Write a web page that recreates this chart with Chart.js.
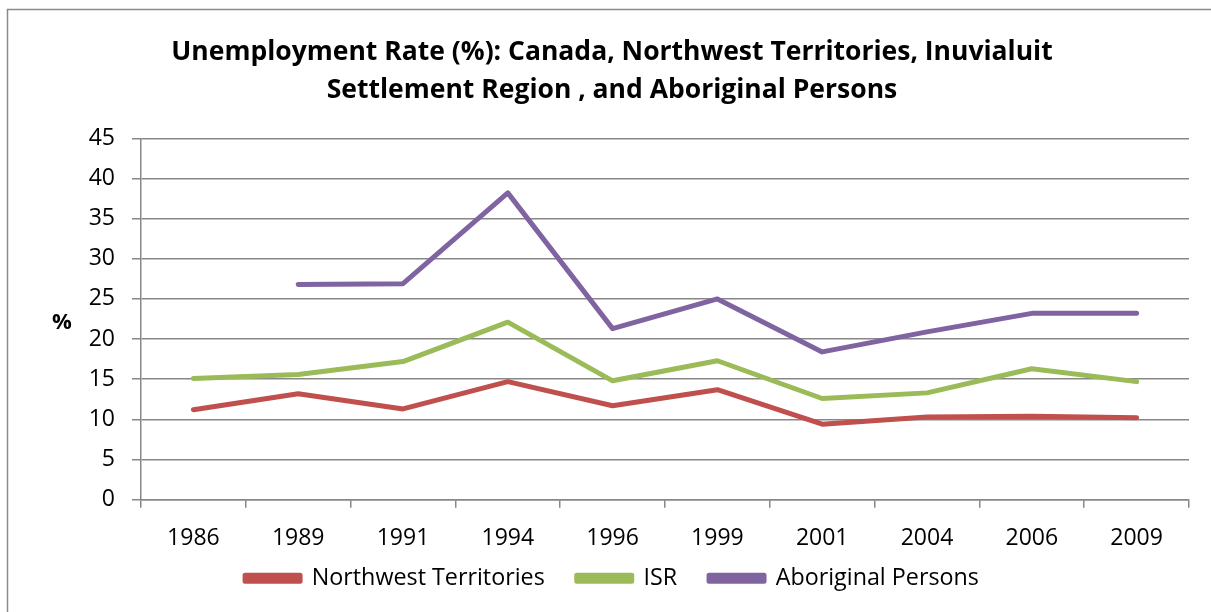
<!DOCTYPE html>
<html>
<head>
<meta charset="utf-8">
<script src="https://cdn.jsdelivr.net/npm/chart.js@4"></script>
<style>
  html, body { margin: 0; padding: 0; background: #ffffff; }
  #wrap { width: 1211px; height: 612px; position: relative; }
</style>
</head>
<body>
<div id="wrap"><canvas id="c" width="1211" height="612"></canvas></div>
<script>
const categories = ['1986', '1989', '1991', '1994', '1996', '1999', '2001', '2004', '2006', '2009'];
const nwtValues = [11.2, 13.2, 11.3, 14.7, 11.7, 13.7, 9.4, 10.3, 10.4, 10.2];
const isrValues = [15.1, 15.6, 17.2, 22.1, 14.8, 17.3, 12.6, 13.3, 16.3, 14.7];
const aboriginalValues = [null, 26.8, 26.9, 38.2, 21.3, 25.0, 18.4, 20.9, 23.2, 23.2];
const seriesNames = ['Northwest Territories', 'ISR', 'Aboriginal Persons'];
const titleLines = ['Unemployment Rate (%): Canada, Northwest Territories, Inuvialuit', 'Settlement Region , and Aboriginal Persons'];
const yAxisLabel = '%';

const FONT = '"Open Sans", Lato, sans-serif';
const GRID = '#878787';
const LEGEND_PAD = 32;
const LEGEND_SHIFT = 17;

const framePlugin = {
  id: 'frame',
  afterLayout(chart) {
    const l = chart.legend;
    if (l) { l.top -= LEGEND_SHIFT; l.bottom -= LEGEND_SHIFT; }
  },
  beforeDraw(chart) {
    const ctx = chart.ctx;
    ctx.save();
    ctx.strokeStyle = '#8a8a8a';
    ctx.lineWidth = 1.5;
    ctx.beginPath();
    ctx.moveTo(7.5, 612);
    ctx.lineTo(7.5, 9.5);
    ctx.lineTo(1211, 9.5);
    ctx.stroke();
    ctx.restore();
  },
  afterDraw(chart) {
    const ctx = chart.ctx;
    const y = chart.scales.y;
    ctx.save();
    ctx.fillStyle = '#000';
    ctx.font = 'bold 22px ' + FONT;
    ctx.textAlign = 'center';
    ctx.textBaseline = 'middle';
    ctx.fillText(yAxisLabel, 62, (y.top + y.bottom) / 2 + 4);
    ctx.restore();
  }
};

function ds(label, data, color) {
  return {
    label, data,
    borderColor: color, backgroundColor: color,
    borderWidth: 5, pointRadius: 0, pointHoverRadius: 0,
    tension: 0, spanGaps: false,
    borderCapStyle: 'round', borderJoinStyle: 'round'
  };
}

new Chart(document.getElementById('c'), {
  type: 'line',
  data: {
    labels: categories,
    datasets: [
      ds(seriesNames[0], nwtValues, '#C0504D'),
      ds(seriesNames[1], isrValues, '#9BBB59'),
      ds(seriesNames[2], aboriginalValues, '#8064A2')
    ]
  },
  plugins: [framePlugin],
  options: {
    responsive: false,
    animation: false,
    devicePixelRatio: 1,
    layout: { padding: { left: 35, right: 22, top: 0, bottom: -5 } },
    plugins: {
      tooltip: { enabled: false },
      title: {
        display: true,
        text: titleLines,
        color: '#000',
        font: { family: FONT, size: 26.5, weight: 'bold', lineHeight: 1.42 },
        padding: { top: 34, bottom: 29 }
      },
      legend: {
        position: 'bottom',
        labels: {
          color: '#000',
          font: { family: FONT, size: 23.3 },
          boxWidth: 55, boxHeight: 6,
          padding: LEGEND_PAD
        }
      }
    },
    scales: {
      x: {
        type: 'category',
        offset: true,
        grid: { display: true, drawOnChartArea: false, drawTicks: true, tickLength: 8, color: GRID, lineWidth: 1.5, offset: true },
        border: { display: true, color: GRID, width: 1.5 },
        ticks: { color: '#000', font: { family: FONT, size: 23 }, padding: 17, maxRotation: 0, autoSkip: false },
        afterFit(s) { s.height = 52; }
      },
      y: {
        min: 0, max: 45,
        grid: { color: GRID, lineWidth: 1.5, tickLength: 9, drawTicks: true },
        border: { display: true, color: GRID, width: 1.5 },
        ticks: { stepSize: 5, color: '#000', font: { family: FONT, size: 23 }, padding: 17 },
        afterFit(s) { s.width = 106; }
      }
    }
  }
});
</script>
</body>
</html>
